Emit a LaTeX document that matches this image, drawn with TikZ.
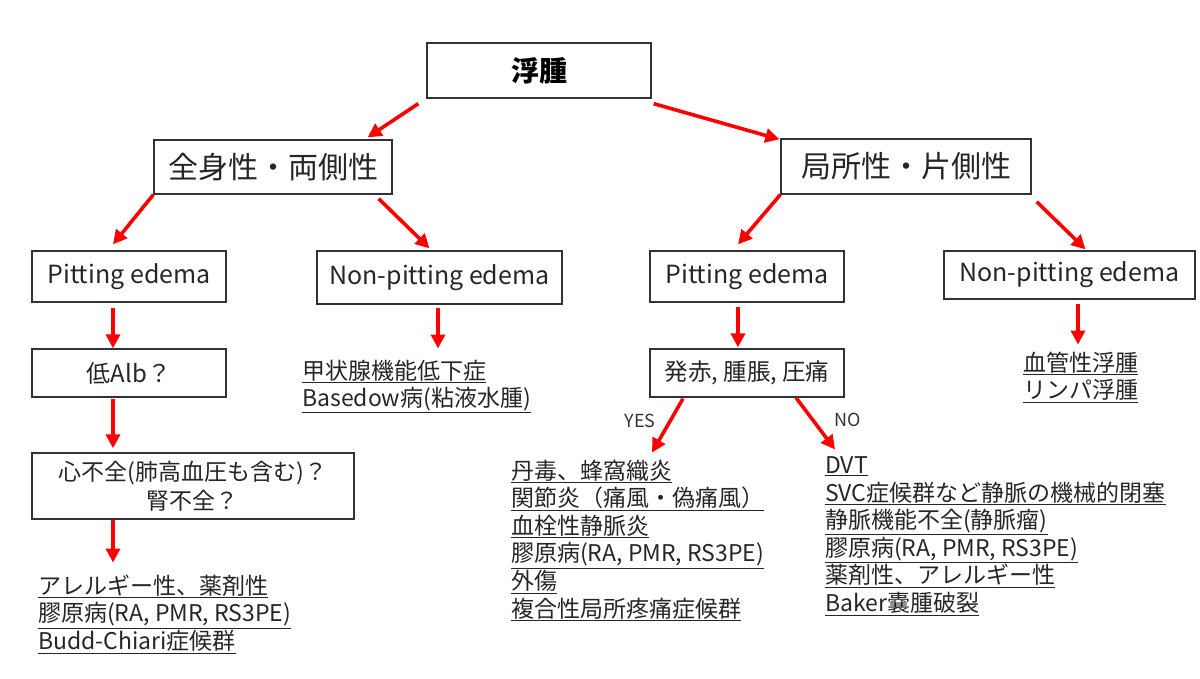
\documentclass[tikz,border=0pt]{standalone}
\usepackage{fontspec}
\setmainfont{Noto Sans CJK JP}
\usetikzlibrary{arrows.meta}

\begin{document}
\begin{tikzpicture}[x=1pt, y=-1pt,
    box/.style={draw=black!80, line width=1.3pt, rectangle, inner sep=0pt, text=black!85},
    arr/.style={draw=red, line width=3.6pt, -{Triangle[length=14pt,width=14pt]}},
    lst/.style={anchor=north west, inner sep=0pt, align=left, text=black!85,
        font=\fontsize{23}{27.6}\selectfont},
    yn/.style={text=black!80, font=\fontsize{18}{19}\selectfont}]

\useasboundingbox (0,0) rectangle (1200,678);

% Root
\node [box, minimum width=224, minimum height=55, text=black,
    font=\fontsize{28}{30}\selectfont\bfseries] (root) at (539,70.5) {浮腫};

% Level 1
\node [box, minimum width=238, minimum height=54,
    font=\fontsize{30}{32}\selectfont] (gen) at (273,167) {全身性・両側性};
\node [box, minimum width=250, minimum height=55,
    font=\fontsize{30}{32}\selectfont] (loc) at (906,166.5) {局所性・片側性};

% Level 2
\node [box, minimum width=194, minimum height=51,
    font=\fontsize{25}{27}\selectfont] (gpit) at (129,276.5) {Pitting edema};
\node [box, minimum width=245, minimum height=53,
    font=\fontsize{25}{27}\selectfont] (gnon) at (439.5,277.5) {Non-pitting edema};
\node [box, minimum width=194, minimum height=51,
    font=\fontsize{25}{27}\selectfont] (lpit) at (747,276.5) {Pitting edema};
\node [box, minimum width=251, minimum height=48,
    font=\fontsize{25}{27}\selectfont] (lnon) at (1069.5,275) {Non-pitting edema};

% Questions
\node [box, minimum width=194, minimum height=48,
    font=\fontsize{24}{26}\selectfont] (alb) at (129,373) {低Alb？};
\node [box, minimum width=322, minimum height=66, align=center,
    font=\fontsize{23}{29}\selectfont] (heart) at (193,486) {心不全(肺高血圧も含む)？\\腎不全？};
\node [box, minimum width=194, minimum height=48,
    font=\fontsize{23.5}{26}\selectfont] (red) at (747,373) {発赤, 腫脹, 圧痛};

% Lists
\node [lst] (glist) at (38,574.5) {\underline{アレルギー性、薬剤性}\\
    \underline{膠原病(RA, PMR, RS3PE)}\\
    \underline{Budd-Chiari症候群}};
\node [lst] (gnlist) at (302,359.5) {\underline{甲状腺機能低下症}\\
    \underline{Basedow病(粘液水腫)}};
\node [lst] (ylist) at (511,459.5) {\underline{丹毒、蜂窩織炎}\\
    \underline{関節炎（痛風・偽痛風）}\\
    \underline{血栓性静脈炎}\\
    \underline{膠原病(RA, PMR, RS3PE)}\\
    \underline{外傷}\\
    \underline{複合性局所疼痛症候群}};
\node [lst] (nlist) at (825,456.5) {\underline{DVT}\\
    \underline{SVC症候群など静脈の機械的閉塞}\\
    \underline{静脈機能不全(静脈瘤)}\\
    \underline{膠原病(RA, PMR, RS3PE)}\\
    \underline{薬剤性、アレルギー性}\\
    \underline{Baker嚢腫破裂}};
\node [lst] (llist) at (1023,351.5) {\underline{血管性浮腫}\\
    \underline{リンパ浮腫}};

% Arrows
\draw [arr] ([shift={(-8,5)}]root.south west) -- ([shift={(-25,-2)}]gen.north east);
\draw [arr] ([shift={(2,5)}]root.south east) -- ([shift={(-1,1)}]loc.north west);
\draw [arr] (gen.south west) -- ([shift={(-16,-6)}]gpit.north);
\draw [arr] ([shift={(-14,4)}]gen.south east) -- ([shift={(-10,-2)}]gnon.north);
\draw [arr] (loc.south west) -- ([shift={(-9,-6)}]lpit.north);
\draw [arr] ([shift={(5,7)}]loc.south east) -- ([shift={(16,-1)}]lnon.north);
\draw [arr] ([shift={(-16,5)}]gpit.south) -- ([shift={(-16,0)}]alb.north);
\draw [arr] ([shift={(-16,1)}]alb.south) -- ([shift={(-80,-4)}]heart.north);
\draw [arr] ([shift={(-80,0)}]heart.south) -- ([shift={(75,-12)}]glist.north west);
\draw [arr] ([shift={(-1.5,3)}]gnon.south) -- ([shift={(136,-11)}]gnlist.north west);
\draw [arr] ([shift={(-9,4)}]lpit.south) -- ([shift={(-9,-1)}]red.north);
\draw [arr] ([shift={(8.5,4)}]lnon.south) -- ([shift={(55,-7)}]llist.north west);
\draw [arr] ([shift={(-64,1)}]red.south) -- ([shift={(141,-7)}]ylist.north west)
    node [yn, midway, left=7pt, yshift=5pt] {YES};
\draw [arr] ([shift={(49,0)}]red.south) -- ([shift={(10,-7)}]nlist.north west)
    node [yn, midway, right=14pt, yshift=4pt] {NO};

\end{tikzpicture}
\end{document}
